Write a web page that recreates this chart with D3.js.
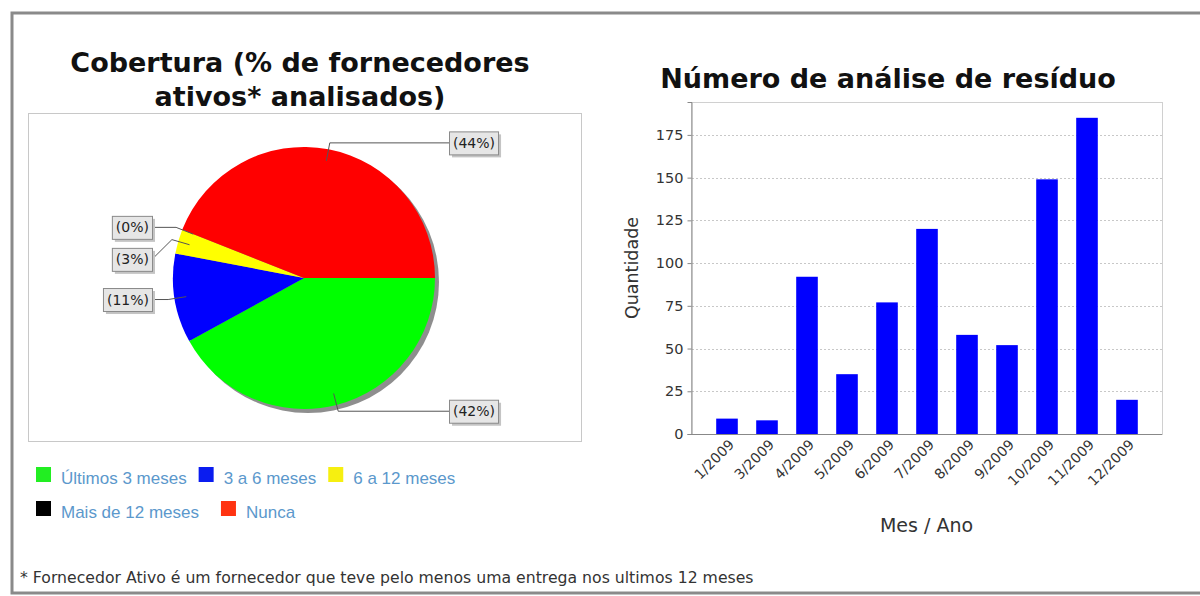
<!DOCTYPE html>
<html><head><meta charset="utf-8">
<script src="https://cdn.jsdelivr.net/npm/d3@7"></script>
<style>
html,body{margin:0;padding:0;background:#fff;}
svg{display:block;}
</style></head>
<body>
<svg id="c" width="1200" height="596"></svg>
<script>
// ---- Data ----
const pieCategories = ["Últimos 3 meses", "3 a 6 meses", "6 a 12 meses", "Mais de 12 meses", "Nunca"];
const pieValues = [42, 11, 3, 0, 44];
const pieColors = ["#00ff00", "#0000ff", "#ffff00", "#000000", "#ff0000"];
const legendColors = ["#22ee22", "#0a1cf0", "#f6ef10", "#000000", "#ff3311"];

const barCategories = ["1/2009","3/2009","4/2009","5/2009","6/2009","7/2009","8/2009","9/2009","10/2009","11/2009","12/2009"];
const barValues = [9, 8, 92, 35, 77, 120, 58, 52, 149, 185, 20];
const yTicks = [0, 25, 50, 75, 100, 125, 150, 175];

const svg = d3.select("#c");

// outer frame
svg.append("rect").attr("x", 12).attr("y", 13).attr("width", 1200).attr("height", 580)
  .attr("fill", "none").attr("stroke", "#8a8a8a").attr("stroke-width", 3);

// ---- Pie chart ----
svg.append("text").attr("x", 300).attr("y", 72).attr("text-anchor", "middle")
  .style("font", "bold 27px 'DejaVu Sans'").attr("fill", "#111").text("Cobertura (% de fornecedores");
svg.append("text").attr("x", 300).attr("y", 106).attr("text-anchor", "middle")
  .style("font", "bold 27px 'DejaVu Sans'").attr("fill", "#111").text("ativos* analisados)");

svg.append("rect").attr("x", 28.5).attr("y", 113.5).attr("width", 553).attr("height", 328)
  .attr("fill", "#fff").attr("stroke", "#c8c8c8");

const cx = 304, cy = 278, r = 131;
const pie = d3.pie().sort(null).value(d => d)
  .startAngle(Math.PI / 2).endAngle(Math.PI / 2 + 2 * Math.PI);
const arcs = pie(pieValues);
const arcGen = d3.arc().innerRadius(0).outerRadius(r);

svg.append("circle").attr("cx", cx + 4).attr("cy", cy + 4).attr("r", r).attr("fill", "#8e8e8e");
const pg = svg.append("g").attr("transform", `translate(${cx},${cy})`);
pg.selectAll("path").data(arcs).join("path")
  .attr("d", arcGen).attr("fill", (d, i) => pieColors[i]);

// labels
const labels = arcs.map((a, i) => {
  const mid = (a.startAngle + a.endAngle) / 2; // d3 angle: 0 = up, clockwise
  const sx = Math.sin(mid), sy = -Math.cos(mid);
  return {
    i, text: "(" + pieValues[i] + "%)",
    right: sx >= 0,
    ex: cx + sx * r * 1.05, ey: cy + sy * r * 1.05,
    ix: cx + sx * r * 0.91, iy: cy + sy * r * 0.91,
    y: cy + sy * r * 1.05
  };
});
["left", "right"].forEach(side => {
  const grp = labels.filter(l => (side === "right") === l.right).sort((a, b) => a.y - b.y);
  for (let k = 1; k < grp.length; k++) {
    if (grp[k].y - grp[k - 1].y < 32) grp[k].y = grp[k - 1].y + 32;
  }
});
const lg = svg.append("g");
labels.forEach(l => {
  const tmp = lg.append("text").style("font", "14px 'DejaVu Sans'").text(l.text);
  const tw = tmp.node().getComputedTextLength();
  tmp.remove();
  const bw = tw + 7, bh = 23;
  const bx = l.right ? 449 : 152 - bw;
  const by = l.y - bh / 2;
  const edgeX = l.right ? bx : bx + bw;
  lg.append("polyline")
    .attr("points", `${edgeX},${l.y} ${l.ex},${l.ey} ${l.ix},${l.iy}`)
    .attr("fill", "none").attr("stroke", "#555").attr("stroke-width", 1);
  lg.append("rect").attr("x", bx + 3).attr("y", by + 3).attr("width", bw).attr("height", bh).attr("fill", "#c4c4c4");
  lg.append("rect").attr("x", bx + 0.5).attr("y", by + 0.5).attr("width", bw).attr("height", bh)
    .attr("fill", "#e6e6e6").attr("stroke", "#8a8a8a");
  lg.append("text").attr("x", bx + bw / 2 + 0.5).attr("y", l.y + 5).attr("text-anchor", "middle")
    .style("font", "14px 'DejaVu Sans'").attr("fill", "#222").text(l.text);
});

// legend
const legRows = [[0, 1, 2], [3, 4]];
const legY = [467, 501];
const legGap = [12, 22];
legRows.forEach((row, ri) => {
  let x = 36;
  row.forEach(i => {
    svg.append("rect").attr("x", x).attr("y", legY[ri]).attr("width", 15).attr("height", 15).attr("fill", legendColors[i]);
    const t = svg.append("text").attr("x", x + 25).attr("y", legY[ri] + 17)
      .style("font", "17px 'Liberation Sans'").attr("fill", "#5b98cc").text(pieCategories[i]);
    x = x + 25 + t.node().getComputedTextLength() + legGap[ri];
  });
});

// footnote
svg.append("text").attr("x", 20).attr("y", 583)
  .style("font", "15.7px 'DejaVu Sans'").attr("fill", "#333")
  .text("* Fornecedor Ativo é um fornecedor que teve pelo menos uma entrega nos ultimos 12 meses");

// ---- Bar chart ----
const pl = 691, pr = 1162, pt = 102, pb = 434;
svg.append("text").attr("x", 888).attr("y", 88).attr("text-anchor", "middle")
  .style("font", "bold 27px 'DejaVu Sans'").attr("fill", "#111").text("Número de análise de resíduo");

const y = d3.scaleLinear().domain([0, 194.25]).range([pb, pt]);
const x = d3.scaleBand().domain(barCategories).range([pl + 16, pr - 15]).paddingInner(0.46).paddingOuter(0.23);

svg.append("rect").attr("x", pl + 0.5).attr("y", pt + 0.5).attr("width", pr - pl).attr("height", pb - pt)
  .attr("fill", "#fff").attr("stroke", "#d0d0d0");

svg.append("g").selectAll("line").data(yTicks.filter(t => t > 0)).join("line")
  .attr("x1", pl + 1).attr("x2", pr).attr("y1", d => Math.round(y(d)) + 0.5).attr("y2", d => Math.round(y(d)) + 0.5)
  .attr("stroke", "#c8c8c8").attr("stroke-dasharray", "2,2");

svg.append("g").selectAll("rect").data(barValues).join("rect")
  .attr("x", (d, i) => x(barCategories[i]))
  .attr("width", x.bandwidth())
  .attr("y", d => y(d)).attr("height", d => pb - y(d))
  .attr("fill", "#0000ff");

const yAxis = svg.append("g").attr("transform", `translate(${pl + 0.5},0)`)
  .call(d3.axisLeft(y).tickValues(yTicks).tickSize(4).tickPadding(4));
yAxis.select(".domain").attr("stroke", "#888");
yAxis.selectAll(".tick line").attr("stroke", "#888");
yAxis.selectAll("text").style("font", "14.5px 'DejaVu Sans'").attr("fill", "#333");

const xAxis = svg.append("g").attr("transform", `translate(0,${pb + 0.5})`)
  .call(d3.axisBottom(x).tickSize(0).tickSizeOuter(0));
xAxis.select(".domain").attr("stroke", "#888").attr("d", `M${pl},0H${pr}`);
xAxis.selectAll("text").style("font", "14px 'DejaVu Sans'").attr("fill", "#333")
  .attr("text-anchor", "end").attr("dy", null).attr("y", 0)
  .attr("transform", "translate(8,11) rotate(-45)");

svg.append("text").attr("transform", `translate(638,${(pt + pb) / 2}) rotate(-90)`)
  .attr("text-anchor", "middle").style("font", "17.5px 'DejaVu Sans'").attr("fill", "#333").text("Quantidade");
svg.append("text").attr("x", (pl + pr) / 2).attr("y", 532).attr("text-anchor", "middle")
  .style("font", "19px 'DejaVu Sans'").attr("fill", "#333").text("Mes / Ano");
</script>
</body></html>
